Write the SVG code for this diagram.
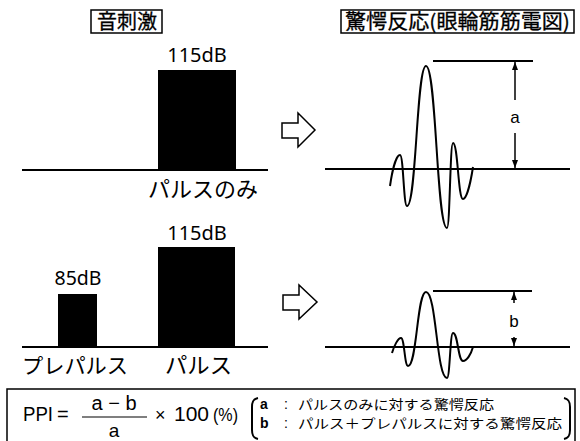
<svg xmlns="http://www.w3.org/2000/svg" width="580" height="441" viewBox="0 0 580 441">
<defs>
<marker id="ah" markerUnits="userSpaceOnUse" markerWidth="8" markerHeight="6" refX="8" refY="3" orient="auto">
<path d="M0,0 L8,3 L0,6 z" fill="#000"/>
</marker>
<style>
.jp{font-family:"Noto Sans CJK JP","Noto Sans",sans-serif;fill:#000}
.tt{font-family:"Noto Sans CJK JP","Noto Sans",sans-serif;fill:#000;stroke:#000;stroke-width:0.3}
.db{font-family:"Noto Sans","DejaVu Sans",sans-serif;fill:#000;text-anchor:middle}
.ln{stroke:#000;stroke-width:2;fill:none}
.bx{stroke:#000;stroke-width:1.5;fill:#fff}
.bar{fill:#000}
.wave{stroke:#000;stroke-width:2;fill:none;stroke-linejoin:round}
.arr{stroke:#000;stroke-width:1.5;fill:#fff;stroke-linejoin:miter}
.dim{stroke:#000;stroke-width:1.5;fill:none;marker-end:url(#ah)}
.ar{font-family:"Liberation Sans",Arial,sans-serif;fill:#000}
</style>
</defs>
<rect width="580" height="441" fill="#fff"/>

<g id="title-stimulus">
<rect class="bx" x="91" y="10" width="71" height="23"/>
<text class="tt" x="97" y="29" font-size="20" textLength="60" lengthAdjust="spacingAndGlyphs">音刺激</text>
</g>
<g id="title-response">
<rect class="bx" x="341" y="10" width="233" height="23"/>
<text class="tt" x="345" y="29" font-size="20" textLength="225" lengthAdjust="spacingAndGlyphs">驚愕反応(眼輪筋筋電図)</text>
</g>

<g id="stim-pulse-only">
<line class="ln" x1="22" y1="170" x2="268" y2="170"/>
<rect class="bar" x="158" y="70" width="78" height="100"/>
<text class="db" x="197" y="62" font-size="20">115dB</text>
<text class="jp" x="148" y="197" font-size="22" textLength="110" lengthAdjust="spacingAndGlyphs">パルスのみ</text>
</g>

<g id="stim-prepulse">
<line class="ln" x1="22" y1="347" x2="268" y2="347"/>
<rect class="bar" x="58" y="294" width="39" height="53"/>
<rect class="bar" x="158" y="247" width="77" height="100"/>
<text class="db" x="78" y="285" font-size="19.5">85dB</text>
<text class="db" x="197" y="240" font-size="20">115dB</text>
<text class="jp" x="22" y="373" font-size="21" textLength="106" lengthAdjust="spacingAndGlyphs">プレパルス</text>
<text class="jp" x="165" y="373" font-size="22" textLength="67" lengthAdjust="spacingAndGlyphs">パルス</text>
</g>

<g id="connectors">
<polygon class="arr" points="282,123 298,123 298,113 315,130 298,147 298,138 282,138"/>
<polygon class="arr" points="283,295 299,295 299,285 317,302 299,319 299,310 283,310"/>
</g>

<g id="response-a">
<line class="ln" x1="325" y1="169" x2="570" y2="169"/>
<line class="ln" x1="433" y1="61" x2="533" y2="61"/>
<path class="wave" d="M390,186 C392,172 396,155 400,155 C403.5,155 403.5,206 407,206 C416.5,206 416.5,66 426,66 C436.5,66 436.5,228 447,228 C450,228 450,143 453,143 C458,143 458,199 463,199 C467,199 471,180 473,167"/>
<line class="dim" x1="515" y1="100" x2="515" y2="62"/>
<line class="dim" x1="515" y1="133" x2="515" y2="168"/>
<text class="ar" x="515" y="123" font-size="17" text-anchor="middle">a</text>
</g>

<g id="response-b">
<line class="ln" x1="325" y1="347" x2="570" y2="347"/>
<line class="ln" x1="433" y1="291" x2="532" y2="291"/>
<path class="wave" d="M392,353 C394,346 398,338 401,338 C404.5,338 404.5,366 408,366 C417,366 417,292 426,292 C436.5,292 436.5,378 447,378 C450,378 450,333 453,333 C458,333 458,361 463,361 C467,361 471,354 473,347"/>
<line class="dim" x1="514" y1="303" x2="514" y2="292"/>
<line class="dim" x1="514" y1="337" x2="514" y2="346"/>
<text class="ar" x="514" y="327" font-size="17" text-anchor="middle">b</text>
</g>

<g id="formula">
<rect x="7" y="389" width="568" height="60" fill="none" stroke="#000" stroke-width="1.5"/>
<text class="ar" x="23" y="421" font-size="21" textLength="30" lengthAdjust="spacingAndGlyphs">PPI</text>
<text class="ar" x="57" y="421" font-size="20">=</text>
<text class="ar" x="114" y="410" font-size="20" text-anchor="middle">a − b</text>
<line x1="82" y1="417" x2="147" y2="417" stroke="#000" stroke-width="1.2"/>
<text class="ar" x="114" y="437" font-size="19" text-anchor="middle">a</text>
<text class="ar" x="155" y="421" font-size="18">×</text>
<text class="ar" x="174" y="421" font-size="21">100</text>
<text class="ar" x="213" y="421" font-size="18" textLength="25" lengthAdjust="spacingAndGlyphs">(%)</text>
<path d="M258,398 C253,399 252,402 252,407 L252,430 C252,435 253,438 258,439" fill="none" stroke="#000" stroke-width="2"/>
<path d="M564,398 C569,399 570,402 570,407 L570,430 C570,435 569,438 564,439" fill="none" stroke="#000" stroke-width="2"/>
<text class="ar" x="260" y="409" font-size="14" font-weight="bold">a</text>
<text class="ar" x="260" y="428" font-size="14" font-weight="bold">b</text>
<text class="ar" x="284" y="409" font-size="14">:</text>
<text class="ar" x="284" y="428" font-size="14">:</text>
<text class="jp" x="298" y="409" font-size="13" textLength="196" lengthAdjust="spacingAndGlyphs">パルスのみに対する驚愕反応</text>
<text class="jp" x="298" y="428" font-size="13" textLength="264" lengthAdjust="spacingAndGlyphs">パルス＋プレパルスに対する驚愕反応</text>
</g>
</svg>
